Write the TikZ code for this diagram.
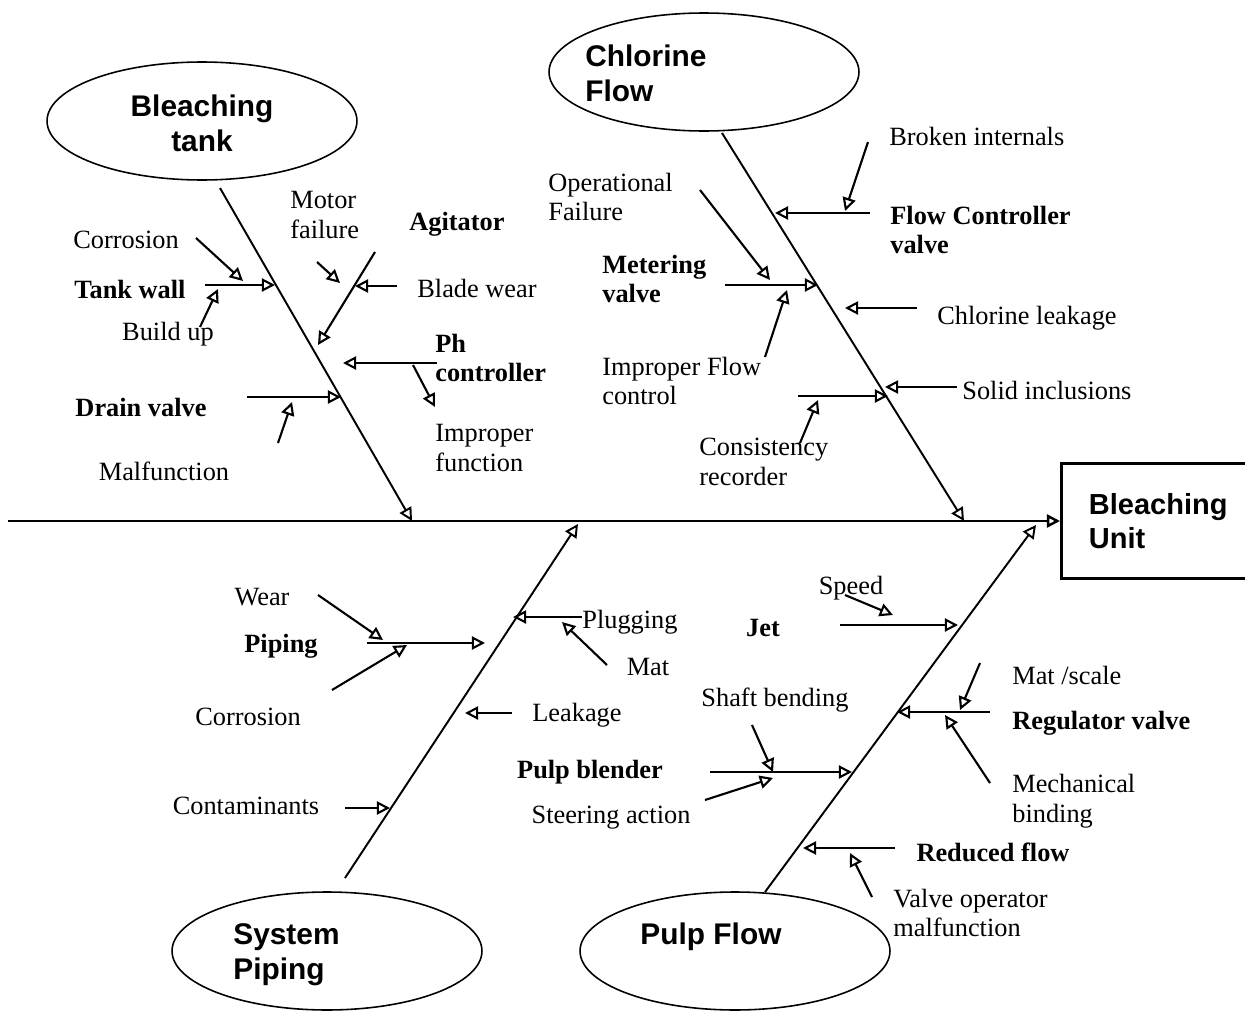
\documentclass[tikz,border=0pt]{standalone}
\usepackage{fontspec}
\setmainfont{Liberation Serif}
\setsansfont{Liberation Sans}
\usetikzlibrary{arrows.meta,shapes.geometric}

\begin{document}
\begin{tikzpicture}[
  x=0.02cm, y=-0.02cm,
  cat/.style={ellipse, draw, line width=0.9pt, minimum width=6.2cm, minimum height=2.36cm},
  cattxt/.style={font=\sffamily\bfseries\fontsize{17}{20}\selectfont, align=left, inner sep=0pt},
  lbl/.style={font=\fontsize{15}{17}\selectfont, align=left, inner sep=0pt},
  blbl/.style={font=\bfseries\fontsize{15}{17}\selectfont, align=left, inner sep=0pt},
  tip/.style={-{Triangle[open, length=7.5pt, width=7.5pt]}},
  bone/.style={tip, line width=1.1pt},
  cause/.style={tip, line width=1.2pt},
  spine/.style={tip, line width=1.4pt}
]
  \useasboundingbox (0,0) rectangle (1245,1011);

  % --- effect box and spine ---
  \node[draw, line width=1.7pt, anchor=west, minimum width=4.6cm, minimum height=2.3cm,
        text width=3.5cm, align=left, font=\sffamily\bfseries\fontsize{16.5}{19.5}\selectfont]
        (unit) at (1060,521) {Bleaching\\Unit};
  \coordinate (tail) at (8,521);
  \draw[spine] (tail) -- (unit.west);

  % --- categories ---
  \node[cat] (tank) at (202,121) {};
  \node[cattxt, align=center] (tanktxt) at (202,123) {Bleaching\\tank};
  \node[cat] (chlor) at (704,72) {};
  \node[cattxt, anchor=west] (chlortxt) at (585,73) {Chlorine\\Flow};
  \node[cat] (sys) at (327,951) {};
  \node[cattxt, anchor=west] (systxt) at (233,955) {System\\Piping};
  \node[cat] (pulp) at (735,951) {};
  \node[cattxt] (pulptxt) at (711,937) {Pulp Flow};

  % --- main bones ---
  \coordinate (t0) at (220,188);  \coordinate (t1) at (412,521);
  \coordinate (c0) at (722,133);  \coordinate (c1) at (964,521);
  \coordinate (s0) at (345,878);  \coordinate (s1) at (578,524);
  \coordinate (p0) at (765,892);  \coordinate (p1) at (1036,525);
  \draw[bone] (t0) -- (t1);
  \draw[bone] (c0) -- (c1);
  \draw[bone] (s0) -- (s1);
  \draw[bone] (p0) -- (p1);

  % --- Bleaching tank ---
  \node[lbl]  (corr1)  at (126,240) {Corrosion};
  \node[blbl] (wall)   at (130,289) {Tank wall};
  \node[lbl]  (build)  at (168,334) {Build up};
  \node[blbl] (drain)  at (141,407) {Drain valve};
  \node[lbl]  (malf)   at (164,471) {Malfunction};
  \node[lbl, anchor=west]  (motor) at (290,215) {Motor\\failure};
  \node[blbl] (agit)   at (457,224) {Agitator};
  \node[lbl]  (blade)  at (477,288) {Blade wear};
  \node[blbl, anchor=west] (ph)    at (435,358) {Ph\\controller};
  \node[lbl, anchor=west]  (impf)  at (435,448) {Improper\\function};

  \coordinate (tw0) at (205,285);  \coordinate (tw1) at (275,285);
  \coordinate (co0) at (196,238);  \coordinate (co1) at (243,281);
  \coordinate (bu0) at (200,327);  \coordinate (bu1) at (218,289);
  \coordinate (dv0) at (247,397);  \coordinate (dv1) at (341,397);
  \coordinate (mf0) at (278,443);  \coordinate (mf1) at (292,402);
  \coordinate (ag0) at (375,252);  \coordinate (ag1) at (318,345);
  \coordinate (mo0) at (317,262);  \coordinate (mo1) at (340,283);
  \coordinate (bw0) at (397,286);  \coordinate (bw1) at (355,286);
  \coordinate (ph0) at (437,363);  \coordinate (ph1) at (343,363);
  \coordinate (ip0) at (413,365);  \coordinate (ip1) at (435,407);
  \draw[cause] (tw0) -- (tw1);
  \draw[cause] (co0) -- (co1);
  \draw[cause] (bu0) -- (bu1);
  \draw[cause] (dv0) -- (dv1);
  \draw[cause] (mf0) -- (mf1);
  \draw[cause] (ag0) -- (ag1);
  \draw[cause] (mo0) -- (mo1);
  \draw[cause] (bw0) -- (bw1);
  \draw[cause] (ph0) -- (ph1);
  \draw[cause] (ip0) -- (ip1);

  % --- Chlorine Flow ---
  \node[lbl, anchor=west]  (oper)  at (548,197) {Operational\\Failure};
  \node[blbl, anchor=west] (meter) at (602,279) {Metering\\valve};
  \node[lbl, anchor=west]  (impc)  at (602,381) {Improper Flow\\control};
  \node[lbl, anchor=west]  (cons)  at (699,462) {Consistency\\recorder};
  \node[lbl, anchor=west]  (broke) at (889,136) {Broken internals};
  \node[blbl, anchor=west] (fcv)   at (890,230) {Flow Controller\\valve};
  \node[lbl, anchor=west]  (cleak) at (937,318) {Chlorine leakage};
  \node[lbl, anchor=west]  (solid) at (962,390) {Solid inclusions};

  \coordinate (fc0) at (870,213);  \coordinate (fc1) at (775,213);
  \coordinate (bi0) at (868,142);  \coordinate (bi1) at (845,211);
  \coordinate (of0) at (700,190);  \coordinate (of1) at (770,280);
  \coordinate (mv0) at (725,285);  \coordinate (mv1) at (818,285);
  \coordinate (if0) at (765,357);  \coordinate (if1) at (787,290);
  \coordinate (cl0) at (917,308);  \coordinate (cl1) at (845,308);
  \coordinate (si0) at (957,387);  \coordinate (si1) at (885,387);
  \coordinate (cr0) at (798,396);  \coordinate (cr1) at (888,396);
  \coordinate (cs0) at (800,443);  \coordinate (cs1) at (818,400);
  \draw[cause] (fc0) -- (fc1);
  \draw[cause] (bi0) -- (bi1);
  \draw[cause] (of0) -- (of1);
  \draw[cause] (mv0) -- (mv1);
  \draw[cause] (if0) -- (if1);
  \draw[cause] (cl0) -- (cl1);
  \draw[cause] (si0) -- (si1);
  \draw[cause] (cr0) -- (cr1);
  \draw[cause] (cs0) -- (cs1);

  % --- System Piping ---
  \node[lbl]  (wear)   at (262,597) {Wear};
  \node[blbl] (piping) at (281,646) {Piping};
  \node[lbl]  (corr2)  at (248,717) {Corrosion};
  \node[lbl, anchor=west] (plug) at (582,622) {Plugging};
  \node[lbl]  (mat)    at (648,667) {Mat};
  \node[lbl, anchor=west] (leak) at (532,715) {Leakage};
  \node[lbl]  (contam) at (246,806) {Contaminants};

  \coordinate (pp0) at (367,643);  \coordinate (pp1) at (485,643);
  \coordinate (we0) at (318,595);  \coordinate (we1) at (383,640);
  \coordinate (cp0) at (332,690);  \coordinate (cp1) at (407,645);
  \coordinate (pl0) at (582,617);  \coordinate (pl1) at (513,617);
  \coordinate (ma0) at (607,665);  \coordinate (ma1) at (562,622);
  \coordinate (lk0) at (512,713);  \coordinate (lk1) at (465,713);
  \coordinate (ct0) at (345,808);  \coordinate (ct1) at (390,808);
  \draw[cause] (pp0) -- (pp1);
  \draw[cause] (we0) -- (we1);
  \draw[cause] (cp0) -- (cp1);
  \draw[cause] (pl0) -- (pl1);
  \draw[cause] (ma0) -- (ma1);
  \draw[cause] (lk0) -- (lk1);
  \draw[cause] (ct0) -- (ct1);

  % --- Pulp Flow ---
  \node[lbl]  (speed)  at (851,588) {Speed};
  \node[blbl] (jet)    at (763,628) {Jet};
  \node[lbl, anchor=west]  (mscale) at (1012,675) {Mat /scale};
  \node[blbl, anchor=west] (regv)   at (1012,723) {Regulator valve};
  \node[lbl, anchor=west]  (mech)   at (1012,801) {Mechanical\\binding};
  \node[lbl]  (shaft)  at (775,700) {Shaft bending};
  \node[blbl] (blend)  at (590,772) {Pulp blender};
  \node[lbl]  (steer)  at (611,818) {Steering action};
  \node[blbl] (redf)   at (993,852) {Reduced flow};
  \node[lbl, anchor=west]  (vop)    at (893,913) {Valve operator\\malfunction};

  \coordinate (jt0) at (840,625);  \coordinate (jt1) at (958,625);
  \coordinate (sp0) at (845,595);  \coordinate (sp1) at (893,615);
  \coordinate (ms0) at (980,663);  \coordinate (ms1) at (960,710);
  \coordinate (rv0) at (990,712);  \coordinate (rv1) at (897,712);
  \coordinate (mb0) at (990,783);  \coordinate (mb1) at (945,715);
  \coordinate (sb0) at (752,725);  \coordinate (sb1) at (773,772);
  \coordinate (pb0) at (710,772);  \coordinate (pb1) at (852,772);
  \coordinate (st0) at (705,800);  \coordinate (st1) at (773,778);
  \coordinate (rf0) at (895,848);  \coordinate (rf1) at (803,848);
  \coordinate (vo0) at (872,897);  \coordinate (vo1) at (850,853);
  \draw[cause] (jt0) -- (jt1);
  \draw[cause] (sp0) -- (sp1);
  \draw[cause] (ms0) -- (ms1);
  \draw[cause] (rv0) -- (rv1);
  \draw[cause] (mb0) -- (mb1);
  \draw[cause] (sb0) -- (sb1);
  \draw[cause] (pb0) -- (pb1);
  \draw[cause] (st0) -- (st1);
  \draw[cause] (rf0) -- (rf1);
  \draw[cause] (vo0) -- (vo1);
\end{tikzpicture}
\end{document}
